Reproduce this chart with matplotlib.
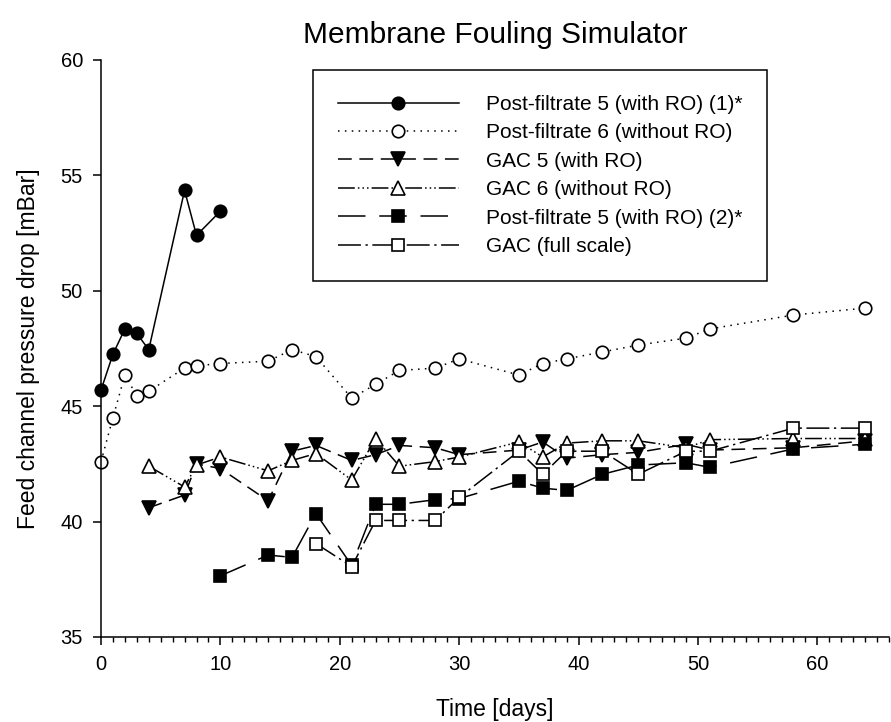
import matplotlib
matplotlib.use("Agg")
import matplotlib.pyplot as plt
from matplotlib.ticker import MultipleLocator

plt.rcParams['font.family'] = ['Liberation Sans', 'DejaVu Sans']

# pressure drop readings per monitor [mBar] vs. time [days]
pf5_1_day = [0, 1, 2, 3, 4, 7, 8, 10]
pf5_1 = [45.7, 47.25, 48.35, 48.15, 47.45, 54.35, 52.4, 53.45]

pf6_day = [0, 1, 2, 3, 4, 7, 8, 10, 14, 16, 18, 21, 23, 25, 28, 30, 35, 37, 39, 42, 45, 49, 51, 58, 64]
pf6 = [42.6, 44.5, 46.35, 45.45, 45.65, 46.65, 46.75, 46.85, 46.95, 47.45, 47.15, 45.35, 45.95,
       46.55, 46.65, 47.05, 46.35, 46.85, 47.05, 47.35, 47.65, 47.95, 48.35, 48.95, 49.25]

gac5_day = [4, 7, 8, 10, 14, 16, 18, 21, 23, 25, 28, 30, 35, 37, 39, 42, 45, 49, 51, 58, 64]
gac5 = [40.6, 41.15, 42.5, 42.3, 40.9, 43.05, 43.3, 42.65, 42.9, 43.3, 43.2, 42.9, 43.1,
        43.45, 42.75, 42.9, 43.0, 43.35, 43.1, 43.2, 43.5]

gac6_day = [4, 7, 8, 10, 14, 16, 18, 21, 23, 25, 28, 30, 35, 37, 39, 42, 45, 49, 51, 58, 64]
gac6 = [42.4, 41.5, 42.45, 42.8, 42.2, 42.65, 42.95, 41.8, 43.6, 42.4, 42.6, 42.8, 43.45,
        42.8, 43.4, 43.5, 43.5, 43.2, 43.55, 43.6, 43.6]

pf5_2_day = [10, 14, 16, 18, 21, 23, 25, 28, 30, 35, 37, 39, 42, 45, 49, 51, 58, 64]
pf5_2 = [37.65, 38.55, 38.45, 40.35, 38.1, 40.75, 40.75, 40.95, 41.0, 41.75, 41.45, 41.35,
         42.05, 42.45, 42.55, 42.35, 43.15, 43.35]

gacfs_day = [18, 21, 23, 25, 28, 30, 35, 37, 39, 42, 45, 49, 51, 58, 64]
gacfs = [39.05, 38.05, 40.05, 40.05, 40.05, 41.05, 43.05, 42.05, 43.05, 43.05, 42.05, 43.05,
         43.05, 44.05, 44.05]

fig = plt.figure(figsize=(8.91, 7.22), dpi=100)
ax = fig.add_axes([101 / 891, 85 / 722, 788 / 891, 577 / 722])

mew = 1.2
common = dict(color='black', lw=1.1, markeredgecolor='black', markeredgewidth=mew, clip_on=False)

ax.plot(pf5_1_day, pf5_1, ls='-', marker='o', ms=9, mfc='black',
        label='Post-filtrate 5 (with RO) (1)*', **common)
ax.plot(pf6_day, pf6, ls=(0, (1, 3.5)), marker='o', ms=9, mfc='white',
        label='Post-filtrate 6 (without RO)', **common)
ax.plot(gac5_day, gac5, ls=(0, (9, 5)), marker='v', ms=10, mfc='black',
        label='GAC 5 (with RO)', **common)
ax.plot(gac6_day, gac6, ls=(0, (11, 2, 1, 2, 1, 2, 1, 2)), marker='^', ms=10, mfc='white',
        label='GAC 6 (without RO)', **common)
ax.plot(pf5_2_day, pf5_2, ls=(0, (18, 9)), marker='s', ms=8.5, mfc='black',
        label='Post-filtrate 5 (with RO) (2)*', **common)
ax.plot(gacfs_day, gacfs, ls=(0, (15, 3, 1.5, 3)), marker='s', ms=8.5, mfc='white',
        label='GAC (full scale)', **common)

ax.set_xlim(0, 66)
ax.set_ylim(35, 60)
ax.xaxis.set_major_locator(MultipleLocator(10))
ax.xaxis.set_minor_locator(MultipleLocator(1))
ax.yaxis.set_major_locator(MultipleLocator(5))

for side in ['top', 'right']:
    ax.spines[side].set_visible(False)
for side in ['left', 'bottom']:
    ax.spines[side].set_linewidth(1.1)

ax.tick_params(axis='both', which='major', direction='out', length=6, width=1.1,
               labelsize=14.5, pad=7)
ax.tick_params(axis='x', which='minor', direction='out', length=3.5, width=1.0)

ax.set_xlabel('Time [days]', fontsize=16.5, labelpad=17)
ax.set_ylabel('Feed channel pressure drop [mBar]', fontsize=16.5, labelpad=15)
ax.set_title('Membrane Fouling Simulator', fontsize=21.5, pad=12)

leg = ax.legend(loc='upper left', bbox_to_anchor=(313 / 891, 1 - 70 / 722),
                bbox_transform=fig.transFigure, borderaxespad=0, fontsize=15,
                handlelength=5.8, handletextpad=1.3, numpoints=1, labelspacing=0.45,
                borderpad=1.2, fancybox=False, framealpha=1, edgecolor='black')
leg.get_frame().set_linewidth(1.1)

fig.savefig('out.png', dpi=100)
